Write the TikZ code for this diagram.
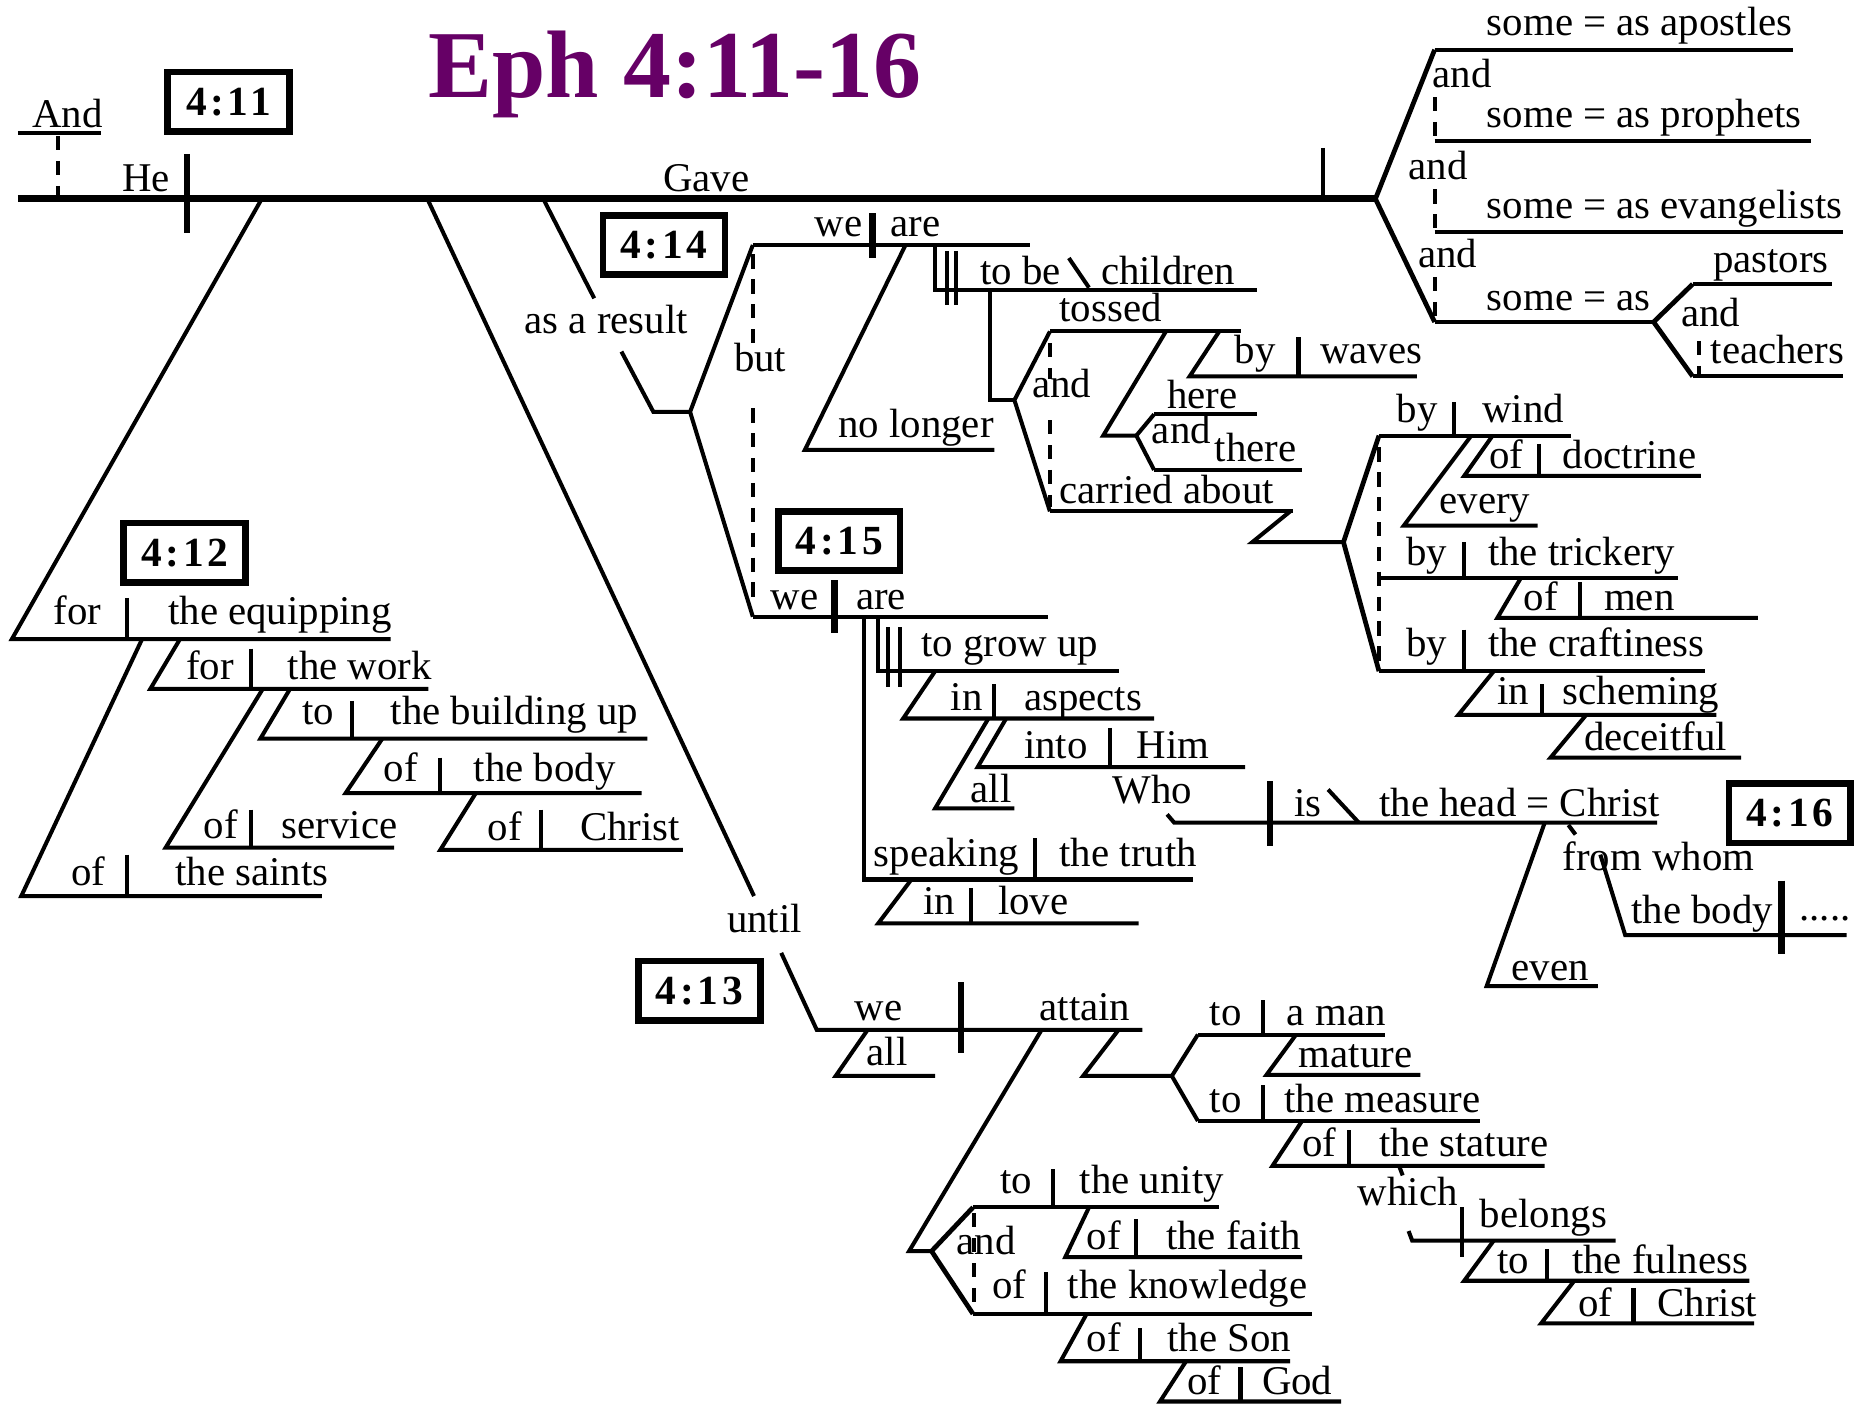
\documentclass[tikz,border=0pt]{standalone}
\usepackage{fontspec}
\setmainfont{Liberation Serif}
\newfontfamily\titlefont{Liberation Serif}
\newfontfamily\versefont{Liberation Serif}[LetterSpace=9]
\definecolor{titlepurple}{HTML}{660066}
\tikzset{
  ln/.style={line width=3.4pt},
  fk/.style={line width=4pt},
  mainln/.style={line width=6pt},
  dv/.style={line width=5.5pt},
  dsh/.style={line width=3.4pt, dash pattern=on 12pt off 9pt},
  w/.style={anchor=base west, inner sep=0pt, font=\fontsize{34.5}{40}\selectfont},
  vbox/.style={draw, line width=5.5pt, minimum width=103pt, minimum height=50pt, inner sep=0pt, font=\versefont\bfseries\fontsize{35}{40}\selectfont},
}
\begin{document}
\begin{tikzpicture}[x=1pt,y=-1pt]
\useasboundingbox (0,0) rectangle (1568,1187);

% title
\node[anchor=base west, inner sep=0pt, text=titlepurple, font=\titlefont\bfseries\fontsize{81}{88}\selectfont] (title) at (362,82) {Eph 4:11-16};

% verse boxes
\node[vbox] (v11) at (193,86) {4:11};
\node[vbox] (v12) at (156,467) {4:12};
\node[vbox] (v13) at (591,837) {4:13};
\node[vbox] (v14) at (561,207) {4:14};
\node[vbox] (v15) at (709,457) {4:15};
\node[vbox] (v16) at (1512,687) {4:16};

% main line
\draw[mainln] (15,168) -- (1162,168);
\draw[dv] (158,130) -- (158,197);
\draw[ln] (1118,125) -- (1118,166);
\node[w] (tAnd) at (27,108) {And};
\draw[ln] (15,112) -- (85,112);
\draw[dsh] (49,115) -- (49,166);
\node[w] (tHe) at (103,162) {He};
\node[w] (tGave) at (560,162) {Gave};

% objects
\draw[fk] (1212,42) -- (1162,168) -- (1212,272);
\draw[ln] (1212,42) -- (1515,42);
\node[w] (tApo) at (1256,30) {some = as apostles};
\draw[ln] (1212,119) -- (1530,119);
\node[w] (tPro) at (1256,108) {some = as prophets};
\draw[ln] (1212,196) -- (1557,196);
\node[w] (tEva) at (1256,185) {some = as evangelists};
\draw[ln] (1212,272) -- (1397,272);
\node[w] (tSome) at (1256,262) {some = as};
\node[w] (tAnd1) at (1210,74) {and};
\draw[dsh] (1212,82) -- (1212,119);
\node[w] (tAnd2) at (1190,152) {and};
\draw[dsh] (1212,160) -- (1212,196);
\node[w] (tAnd3) at (1198,226) {and};
\draw[dsh] (1212,234) -- (1212,272);
\draw[fk] (1430,240) -- (1397,272) -- (1430,318);
\draw[ln] (1430,240) -- (1548,240);
\node[w] (tPas) at (1447,230) {pastors};
\draw[ln] (1430,318) -- (1557,318);
\node[w] (tTea) at (1445,307) {teachers};
\node[w] (tAnd4) at (1420,276) {and};
\draw[dsh] (1435,288) -- (1435,316);

% 4:12 branch
\draw[ln] (220,170) -- (10,540) -- (330,540);
\draw[ln] (107,505) -- (107,540);
\node[w] (tFor1) at (45,528) {for};
\node[w] (tEquip) at (142,528) {the equipping};
\draw[ln] (120,540) -- (18,757) -- (272,757);
\draw[ln] (107,722) -- (107,757);
\node[w] (tOf1) at (60,748) {of};
\node[w] (tSaints) at (148,748) {the saints};
\draw[ln] (152,540) -- (127,582) -- (362,582);
\draw[ln] (212,548) -- (212,582);
\node[w] (tFor2) at (157,574) {for};
\node[w] (tWork) at (243,574) {the work};
\draw[ln] (222,582) -- (140,716) -- (333,716);
\draw[ln] (212,684) -- (212,716);
\node[w] (tOf2) at (172,708) {of};
\node[w] (tServ) at (238,708) {service};
\draw[ln] (245,582) -- (220,624) -- (547,624);
\draw[ln] (297,592) -- (297,624);
\node[w] (tTo1) at (255,612) {to};
\node[w] (tBuild) at (330,612) {the building up};
\draw[ln] (323,624) -- (292,670) -- (542,670);
\draw[ln] (372,640) -- (372,670);
\node[w] (tOf3) at (324,660) {of};
\node[w] (tBody1) at (400,660) {the body};
\draw[ln] (402,670) -- (372,718) -- (577,718);
\draw[ln] (457,684) -- (457,718);
\node[w] (tOf4) at (412,710) {of};
\node[w] (tChr1) at (490,710) {Christ};

% until branch (4:13)
\draw[ln] (362,170) -- (637,757);
\node[w] (tUntil) at (614,788) {until};
\draw[ln] (660,805) -- (690,870) -- (965,870);
\node[w] (tWe3) at (722,862) {we};
\draw[dv] (812,830) -- (812,890);
\node[w] (tAttain) at (878,862) {attain};
\draw[ln] (733,870) -- (706,909) -- (790,909);
\node[w] (tAll2) at (732,900) {all};
\draw[ln] (945,870) -- (915,909) -- (990,909);
\draw[ln] (1012,874) -- (990,909) -- (1012,947);
\draw[ln] (1012,874) -- (1170,874);
\draw[ln] (1067,845) -- (1067,874);
\node[w] (tTo2) at (1022,866) {to};
\node[w] (tMan) at (1087,866) {a man};
\draw[ln] (1095,874) -- (1070,908) -- (1200,908);
\node[w] (tMature) at (1097,902) {mature};
\draw[ln] (1012,947) -- (1250,947);
\draw[ln] (1067,917) -- (1067,947);
\node[w] (tTo3) at (1022,940) {to};
\node[w] (tMeas) at (1085,940) {the measure};
\draw[ln] (1100,947) -- (1075,985) -- (1305,985);
\draw[ln] (1140,955) -- (1140,985);
\node[w] (tOf5) at (1100,977) {of};
\node[w] (tStat) at (1165,977) {the stature};
\draw[ln] (1182,985) -- (1185,993);
\node[w] (tWhich) at (1147,1018) {which};
\draw[ln] (1190,1040) -- (1193,1048) -- (1365,1048);
\draw[ln] (1235,1020) -- (1235,1062);
\node[w] (tBel) at (1250,1037) {belongs};
\draw[ln] (1262,1048) -- (1237,1082) -- (1478,1082);
\draw[ln] (1307,1055) -- (1307,1082);
\node[w] (tTo4) at (1265,1076) {to};
\node[w] (tFul) at (1328,1076) {the fulness};
\draw[ln] (1330,1082) -- (1302,1118) -- (1482,1118);
\draw[ln] (1380,1088) -- (1380,1118);
\node[w] (tOf6) at (1333,1112) {of};
\node[w] (tChr2) at (1400,1112) {Christ};

\draw[ln] (880,870) -- (768,1057) -- (787,1057);
\draw[fk] (822,1020) -- (787,1057) -- (822,1110);
\draw[ln] (822,1020) -- (1030,1020);
\draw[ln] (890,988) -- (890,1020);
\node[w] (tTo5) at (845,1008) {to};
\node[w] (tUnity) at (912,1008) {the unity};
\node[w] (tAnd5) at (808,1060) {and};
\draw[dsh] (823,1025) -- (823,1105);
\draw[ln] (920,1020) -- (900,1062) -- (1100,1062);
\draw[ln] (960,1030) -- (960,1062);
\node[w] (tOf7) at (918,1056) {of};
\node[w] (tFaith) at (985,1056) {the faith};
\draw[ln] (822,1110) -- (1108,1110);
\draw[ln] (884,1075) -- (884,1110);
\node[w] (tOf8) at (838,1097) {of};
\node[w] (tKnow) at (902,1097) {the knowledge};
\draw[ln] (918,1110) -- (896,1150) -- (1090,1150);
\draw[ln] (963,1122) -- (963,1150);
\node[w] (tOf9) at (918,1142) {of};
\node[w] (tSon) at (986,1142) {the Son};
\draw[ln] (1002,1150) -- (980,1184) -- (1133,1184);
\draw[ln] (1048,1155) -- (1048,1184);
\node[w] (tOf10) at (1003,1178) {of};
\node[w] (tGod) at (1066,1178) {God};

% as a result branch (4:14)
\draw[ln] (460,170) -- (502,252);
\node[w] (tResult) at (443,282) {as a result};
\draw[ln] (525,297) -- (552,348) -- (583,348);
\draw[ln] (636,207) -- (583,348) -- (636,521);
\draw[ln] (636,207) -- (870,207);
\node[w] (tWe1) at (688,200) {we};
\draw[dv] (737,180) -- (737,218);
\node[w] (tAre1) at (752,200) {are};
\node[w] (tBut) at (620,314) {but};
\draw[dsh] (636,215) -- (636,290);
\draw[dsh] (636,345) -- (636,510);
\draw[ln] (765,207) -- (680,380) -- (840,380);
\node[w] (tNoLonger) at (708,370) {no longer};
\draw[ln] (790,207) -- (790,245) -- (1062,245);
\draw[ln] (800,212) -- (800,258);
\draw[ln] (808,212) -- (808,258);
\node[w] (tToBe) at (828,240) {to be};
\draw[ln] (903,218) -- (920,243);
\node[w] (tChildren) at (930,240) {children};
\draw[ln] (836,245) -- (836,338) -- (857,338);
\draw[ln] (887,280) -- (857,338) -- (887,432);
\draw[ln] (887,280) -- (1048,280);
\node[w] (tTossed) at (895,272) {tossed};
\node[w] (tAnd6) at (872,336) {and};
\draw[dsh] (887,290) -- (887,320);
\draw[dsh] (887,355) -- (887,428);
\draw[ln] (887,432) -- (1092,432);
\node[w] (tCarried) at (895,425) {carried about};
\draw[ln] (1030,280) -- (1005,318) -- (1197,318);
\draw[ln] (1097,285) -- (1097,318);
\node[w] (tBy1) at (1043,307) {by};
\node[w] (tWaves) at (1115,307) {waves};
\draw[ln] (985,280) -- (932,368) -- (960,368);
\draw[ln] (975,350) -- (960,368) -- (975,397);
\draw[ln] (975,350) -- (1062,350);
\node[w] (tHere) at (986,345) {here};
\node[w] (tAnd7) at (973,375) {and};
\draw[ln] (975,397) -- (1100,397);
\node[w] (tThere) at (1026,390) {there};
\draw[ln] (1090,432) -- (1058,458) -- (1135,458);
\draw[fk] (1165,368) -- (1135,458) -- (1165,567);
\draw[ln] (1165,368) -- (1327,368);
\draw[ln] (1228,340) -- (1228,368);
\node[w] (tBy2) at (1180,357) {by};
\node[w] (tWind) at (1252,357) {wind};
\draw[dsh] (1165,378) -- (1165,560);
\draw[ln] (1261,368) -- (1237,402) -- (1437,402);
\draw[ln] (1300,375) -- (1300,402);
\node[w] (tOf11) at (1258,396) {of};
\node[w] (tDoctrine) at (1320,396) {doctrine};
\draw[ln] (1243,368) -- (1186,444) -- (1299,444);
\node[w] (tEvery) at (1216,434) {every};
\draw[ln] (1165,488) -- (1418,488);
\draw[ln] (1237,458) -- (1237,488);
\node[w] (tBy3) at (1188,478) {by};
\node[w] (tTrick) at (1257,478) {the trickery};
\draw[ln] (1285,488) -- (1265,522) -- (1485,522);
\draw[ln] (1335,492) -- (1335,522);
\node[w] (tOf12) at (1287,516) {of};
\node[w] (tMen) at (1355,516) {men};
\draw[ln] (1165,567) -- (1440,567);
\draw[ln] (1237,532) -- (1237,567);
\node[w] (tBy4) at (1188,555) {by};
\node[w] (tCraft) at (1257,555) {the craftiness};
\draw[ln] (1262,567) -- (1232,604) -- (1450,604);
\draw[ln] (1303,578) -- (1303,604);
\node[w] (tIn1) at (1265,595) {in};
\node[w] (tScheme) at (1320,595) {scheming};
\draw[ln] (1340,604) -- (1310,640) -- (1471,640);
\node[w] (tDeceit) at (1338,634) {deceitful};

% 4:15
\draw[ln] (636,521) -- (885,521);
\node[w] (tWe2) at (651,515) {we};
\draw[dv] (705,490) -- (705,535);
\node[w] (tAre2) at (723,515) {are};
\draw[ln] (730,521) -- (730,743) -- (1008,743);
\draw[ln] (874,708) -- (874,743);
\node[w] (tSpeak) at (738,732) {speaking};
\node[w] (tTruth) at (895,732) {the truth};
\draw[ln] (770,743) -- (742,780) -- (962,780);
\draw[ln] (820,750) -- (820,780);
\node[w] (tIn2) at (780,773) {in};
\node[w] (tLove) at (843,773) {love};
\draw[ln] (742,521) -- (742,567) -- (945,567);
\draw[ln] (750,530) -- (750,580);
\draw[ln] (760,530) -- (760,580);
\node[w] (tGrow) at (778,555) {to grow up};
\draw[ln] (790,567) -- (763,607) -- (975,607);
\draw[ln] (840,578) -- (840,607);
\node[w] (tIn3) at (803,600) {in};
\node[w] (tAspects) at (865,600) {aspects};
\draw[ln] (835,607) -- (790,683) -- (857,683);
\node[w] (tAll1) at (820,678) {all};
\draw[ln] (850,607) -- (826,648) -- (1052,648);
\draw[ln] (938,615) -- (938,648);
\node[w] (tInto) at (865,641) {into};
\node[w] (tHim) at (960,641) {Him};
\node[w] (tWho) at (940,679) {Who};
\draw[ln] (986,688) -- (992,695) -- (1400,695);
\draw[dv] (1073,660) -- (1073,715);
\node[w] (tIs) at (1093,690) {is};
\draw[ln] (1122,667) -- (1148,695);
\node[w] (tHead) at (1165,690) {the head = Christ};
\draw[ln] (1305,695) -- (1256,833) -- (1350,833);
\node[w] (tEven) at (1277,828) {even};
\draw[ln] (1325,697) -- (1331,705);
\node[w] (tWhom) at (1320,735) {from whom};
\draw[ln] (1352,722) -- (1373,790) -- (1560,790);
\draw[dv] (1505,744) -- (1505,806);
\node[w] (tBody2) at (1378,780) {the body};
\node[w] (tDots) at (1520,778) {.....};
\end{tikzpicture}
\end{document}
